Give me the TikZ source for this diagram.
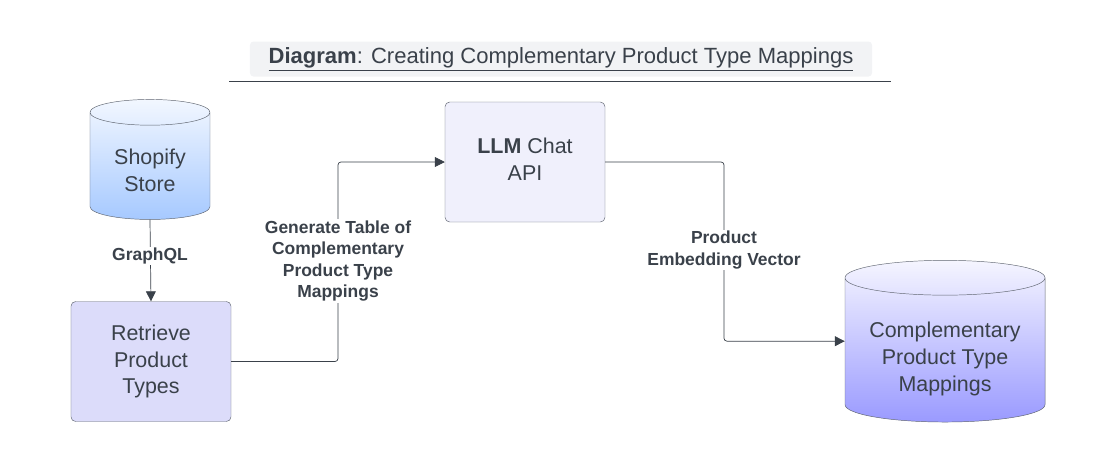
\documentclass[tikz,border=0pt]{standalone}
\usepackage{fontspec}
\setmainfont{Liberation Sans}
\usepackage{tikz}
\usetikzlibrary{positioning, shapes.geometric, arrows.meta, calc}

\definecolor{ink}{HTML}{3A414A}
\definecolor{framegray}{HTML}{5F6570}
\definecolor{titlegray}{HTML}{F2F3F5}
\definecolor{retfill}{HTML}{DCDCFA}
\definecolor{llmfill}{HTML}{F0F0FC}
\definecolor{shoptop}{HTML}{F2F7FF}
\definecolor{shopbot}{HTML}{A6C9FF}
\definecolor{mapstop}{HTML}{F5F5FF}
\definecolor{mapsbot}{HTML}{9A9AFF}

\begin{document}
\begin{tikzpicture}[x=0.03cm, y=-0.03cm,
                procbox/.style={draw=framegray, thin, rectangle, rounded corners=4pt, minimum width=4.8cm, minimum height=3.6cm, align=center, text=ink, font=\fontsize{18.3}{23}\selectfont},
                store/.style={draw=framegray, thin, cylinder, shape border rotate=90, inner sep=0pt, align=center, text=ink, font=\fontsize{18.3}{23}\selectfont},
                edge/.style={draw=ink, semithick, rounded corners=2.5pt, -{Triangle[length=8.5pt, width=8.5pt]}},
                edgelabel/.style={fill=white, inner sep=1pt, align=center, text=ink, font=\bfseries\fontsize{14.9}{18.4}\selectfont}
            ]
            \useasboundingbox (0,0) rectangle (1117,463);

            % Titel
            \node[fill=titlegray, rounded corners=3pt, minimum width=18.66cm, minimum height=1.05cm, text=ink, font=\fontsize{18.8}{22}\selectfont] (title) at (561,59) {\underline{\textbf{Diagram}: Creating Complementary Product Type Mappings}};
            \draw[ink, thin] (229,81) -- (891,81);

            % Knoten
            \node[store, aspect=0.36, text height=43.2pt, text depth=0.2pt, minimum width=3.6cm, minimum height=3.6cm, top color=shoptop, bottom color=shopbot] (shop) at (150,166) {Shopify\\Store};
            \node[procbox, fill=retfill] (ret) at (151,361.5) {Retrieve\\Product\\Types};
            \node[procbox, fill=llmfill, text depth=5pt] (llm) at (525,162) {\textbf{LLM} Chat\\API};
            \node[store, aspect=0.23, text height=73.9pt, text depth=3.8pt, minimum width=6cm, minimum height=4.85cm, top color=mapstop, bottom color=mapsbot] (maps) at (945,350) {Complementary\\Product Type\\Mappings};

            \coordinate (bendA) at (338,0);
            \coordinate (bendB) at (724,0);

            % Kanten zwischen Knoten
            \draw[edge] (shop.south) -- (ret.north);
            \draw[edge] (ret.east) -| (bendA |- llm.west) -- (llm.west);
            \draw[edge] (llm.east) -| (bendB |- maps.shape center) -- (maps.shape center -| maps.west);

            % Beschriftungen
            \node[edgelabel] (gql) at (150,256) {GraphQL};
            \node[edgelabel] (genlbl) at (338,261) {Generate Table of\\Complementary\\Product Type\\Mappings};
            \node[edgelabel] (veclbl) at (724,250) {Product\\Embedding Vector};

        \end{tikzpicture}
\end{document}
